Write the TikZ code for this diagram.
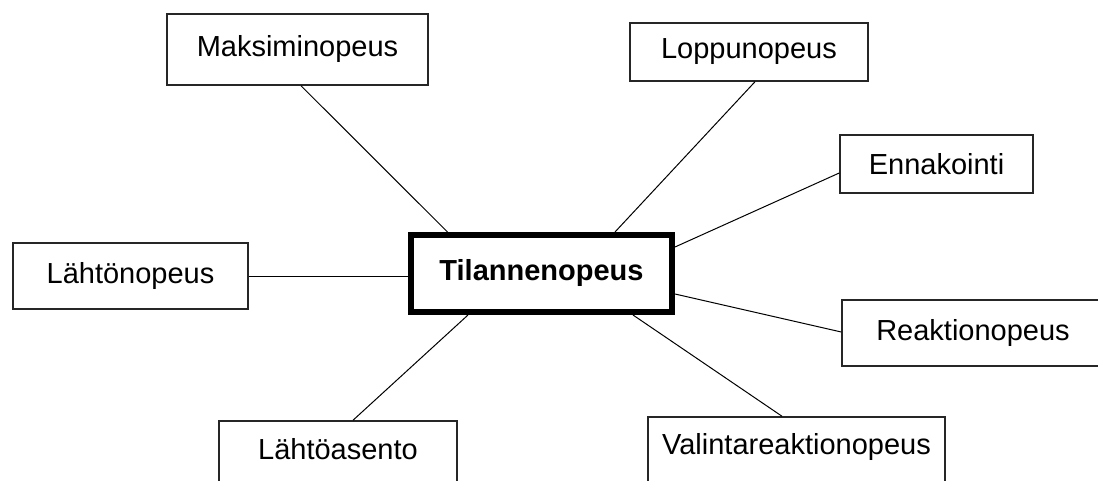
\documentclass[tikz,border=0pt]{standalone}
\usepackage{fontspec}
\setmainfont{Liberation Sans}
\usepackage{tikz}

\begin{document}
\begin{tikzpicture}[x=1pt, y=-1pt,
    topic/.style = {draw=black!85, line width=1.5pt, fill=white, inner sep=0pt,
      font=\fontsize{29}{34}\selectfont},
    hub/.style = {draw=black, line width=6pt, fill=white, inner sep=0pt,
      minimum width=261pt, minimum height=77pt,
      font=\fontsize{29}{34}\selectfont\bfseries}]
  \useasboundingbox (0,0) rectangle (1098,481);
  \node[hub] (tilanne) at (541.5,273.5) {Tilannenopeus};
  \node[topic, minimum width=261pt, minimum height=71pt] (maks) at (297.5,49.5) {Maksiminopeus};
  \node[topic, minimum width=238pt, minimum height=58pt] (loppu) at (749,52) {Loppunopeus};
  \node[topic, minimum width=193pt, minimum height=58pt] (enna) at (936.5,164) {Ennakointi};
  \node[topic, minimum width=235pt, minimum height=66pt] (lahto) at (130.5,276) {Lähtönopeus};
  \node[topic, minimum width=262pt, minimum height=66pt] (reak) at (973,333) {Reaktionopeus};
  \node[topic, minimum width=238pt, minimum height=66pt, text depth=10pt] (asento) at (338,454) {Lähtöasento};
  \node[topic, minimum width=297pt, minimum height=66pt, text depth=12pt] (valinta) at (796.5,450) {Valintareaktionopeus};
  \path[draw, line width=1pt]
    ([xshift=3.5pt]maks.south) edge ([xshift=-94pt]tilanne.north)
    ([xshift=6pt]loppu.south) edge ([xshift=73.5pt]tilanne.north)
    ([yshift=-9pt]enna.west) edge ([yshift=26.5pt]tilanne.east)
    (lahto.east) edge (lahto.east -| tilanne.west)
    ([yshift=1pt]reak.west) edge ([yshift=-20.5pt]tilanne.east)
    ([xshift=15pt]asento.north) edge ([xshift=-73.5pt]tilanne.south)
    ([xshift=-14.5pt]valinta.north) edge ([xshift=91.5pt]tilanne.south);
\end{tikzpicture}
\end{document}
